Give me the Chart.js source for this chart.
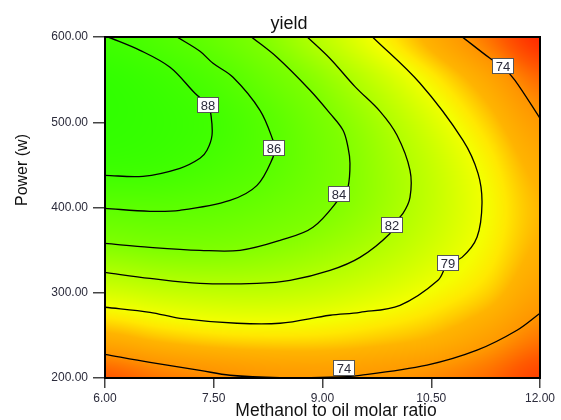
<!DOCTYPE html>
<html>
<head>
<meta charset="utf-8">
<script src="https://cdn.jsdelivr.net/npm/chart.js@4.4.1/dist/chart.umd.min.js"></script>
<style>
  html, body { margin: 0; padding: 0; background: #fff; }
  canvas { display: block; }
</style>
</head>
<body>
<canvas id="c" width="561" height="420"></canvas>
<script>
// ---------- data ----------
const xTicks = [6.00, 7.50, 9.00, 10.50, 12.00];
const yTicks = [200, 300, 400, 500, 600];

// estimated yield surface (rows: power 200 -> 600, cols: ratio 6 -> 12)
const gridX = [6, 6.75, 7.5, 8.25, 9, 9.75, 10.5, 11.25, 12];
const gridY = [200, 250, 300, 350, 400, 450, 500, 550, 600];
const gridZ = [
  [71.4, 72.7, 73.5, 74.1, 74.3, 74.1, 73.5, 72.3, 70.3],
  [76.2, 77.2, 77.8, 78.0, 77.9, 77.4, 76.6, 75.0, 72.9],
  [80.3, 80.9, 81.2, 81.2, 80.8, 80.0, 78.9, 77.4, 74.9],
  [83.5, 83.9, 83.9, 83.5, 82.8, 81.8, 80.4, 78.6, 76.2],
  [86.0, 86.1, 85.8, 85.1, 84.1, 82.8, 81.1, 79.0, 76.6],
  [88.6, 88.3, 87.4, 86.2, 84.6, 82.9, 81.0, 78.6, 75.9],
  [89.4, 88.9, 88.0, 86.3, 84.3, 82.4, 80.1, 77.4, 74.4],
  [89.3, 88.4, 87.0, 85.1, 83.2, 81.0, 78.4, 75.5, 72.2],
  [88.1, 86.9, 85.4, 83.6, 81.4, 78.8, 75.9, 72.7, 69.1]
];

// contour lines
const c88X = [6.000, 6.524, 7.034, 7.310, 7.407, 7.476, 7.462, 7.421, 7.241, 6.897, 6.483, 6.030];
const c88Y = [437.8, 436.6, 446.0, 457.7, 467.1, 484.7, 508.1, 519.9, 534.0, 564.5, 584.4, 600.5];

const c86X = [6.000, 6.621, 7.034, 7.724, 8.097, 8.317, 8.331, 8.317, 8.138, 7.766, 7.490, 7.310, 6.993];
const c86Y = [399.0, 395.5, 396.7, 408.4, 426.0, 458.8, 469.4, 478.8, 514.0, 552.7, 569.1, 583.2, 600.0];

const c84X = [6.000, 6.621, 7.310, 7.862, 8.414, 8.869, 9.283, 9.352, 9.379, 9.352, 9.283, 9.103, 8.828, 8.372, 8.028];
const c84Y = [357.9, 353.3, 349.8, 349.8, 361.5, 376.8, 415.5, 423.7, 451.8, 470.6, 490.6, 510.4, 537.5, 576.2, 599.5];

const c82X = [6.000, 6.621, 7.310, 8.097, 8.552, 9.103, 9.517, 9.931, 9.959, 10.110, 10.207, 10.207, 10.028, 9.793, 9.448, 9.103, 8.790];
const c82Y = [323.8, 316.8, 311.0, 311.0, 314.5, 326.2, 341.5, 369.6, 379.0, 393.2, 412.0, 443.6, 484.7, 512.8, 541.8, 574.8, 600.0];

const c79X = [6.000, 6.621, 7.034, 7.821, 8.414, 9.103, 9.517, 10.069, 10.593, 10.731, 10.924, 11.131, 11.200, 11.145, 10.938, 10.345, 9.690];
const c79Y = [283.0, 277.1, 270.0, 264.2, 264.2, 273.6, 277.1, 285.3, 314.6, 334.5, 341.5, 365.0, 404.9, 440.1, 478.8, 545.7, 600.0];

const c74aX = [6.000, 6.621, 7.310, 7.724, 8.414, 9.103, 9.517, 10.441, 11.131, 11.683, 12.000];
const c74aY = [227.8, 218.4, 209.0, 203.2, 200.3, 200.9, 203.2, 215.1, 232.6, 256.0, 276.0];

const c74bX = [10.924, 11.310, 11.490, 11.655, 12.000];
const c74bY = [600.4, 575.0, 564.5, 549.2, 504.6];

// contour labels
const labelText = ['88', '86', '84', '82', '79', '74', '74'];
const labelX = [7.421, 8.331, 9.228, 9.959, 10.731, 9.297, 11.490];
const labelY = [519.9, 469.4, 415.5, 379.0, 334.5, 211.4, 565.6];

// ---------- colour scale ----------
const colorStops = [
  [69.0, 255, 40, 0],
  [71.5, 255, 90, 0],
  [74.0, 255, 150, 0],
  [76.5, 255, 180, 0],
  [78.0, 255, 232, 0],
  [79.0, 244, 255, 0],
  [82.0, 175, 255, 0],
  [84.0, 125, 255, 0],
  [86.0, 92, 255, 0],
  [88.0, 65, 255, 0],
  [89.5, 48, 255, 0]
];
function colorFor(v) {
  if (v <= colorStops[0][0]) return colorStops[0].slice(1);
  for (let i = 1; i < colorStops.length; i++) {
    if (v <= colorStops[i][0]) {
      const a = colorStops[i - 1], b = colorStops[i];
      const t = (v - a[0]) / (b[0] - a[0]);
      return [a[1] + (b[1] - a[1]) * t, a[2] + (b[2] - a[2]) * t, a[3] + (b[3] - a[3]) * t];
    }
  }
  return colorStops[colorStops.length - 1].slice(1);
}

function cr(p0, p1, p2, p3, t) {
  return 0.5 * ((2 * p1) + (-p0 + p2) * t + (2 * p0 - 5 * p1 + 4 * p2 - p3) * t * t + (-p0 + 3 * p1 - 3 * p2 + p3) * t * t * t);
}
function locate(arr, v) {
  let i = 0;
  while (i < arr.length - 2 && v > arr[i + 1]) i++;
  let t = (v - arr[i]) / (arr[i + 1] - arr[i]);
  return [i, Math.max(0, Math.min(1, t))];
}
function surface(xv, yv) {
  const [i, tx] = locate(gridX, xv);
  const [j, ty] = locate(gridY, yv);
  const nx = gridX.length, ny = gridY.length;
  const cx = k => Math.max(0, Math.min(nx - 1, k));
  const cy = k => Math.max(0, Math.min(ny - 1, k));
  const rows = [];
  for (let r = -1; r <= 2; r++) {
    const row = gridZ[cy(j + r)];
    rows.push(cr(row[cx(i - 1)], row[cx(i)], row[cx(i + 1)], row[cx(i + 2)], tx));
  }
  return cr(rows[0], rows[1], rows[2], rows[3], ty);
}

// ---------- plugins ----------
const heatPlugin = {
  id: 'heat',
  beforeDatasetsDraw(chart) {
    const { ctx, chartArea, scales } = chart;
    const left = Math.round(chartArea.left), top = Math.round(chartArea.top);
    const w = Math.round(chartArea.right) - left, h = Math.round(chartArea.bottom) - top;
    const off = document.createElement('canvas');
    off.width = w; off.height = h;
    const octx = off.getContext('2d');
    const img = octx.createImageData(w, h);
    for (let j = 0; j < h; j++) {
      const yv = scales.y.getValueForPixel(top + j + 0.5);
      for (let i = 0; i < w; i++) {
        const xv = scales.x.getValueForPixel(left + i + 0.5);
        const c = colorFor(surface(xv, yv));
        const k = (j * w + i) * 4;
        img.data[k] = c[0]; img.data[k + 1] = c[1]; img.data[k + 2] = c[2]; img.data[k + 3] = 255;
      }
    }
    octx.putImageData(img, 0, 0);
    ctx.drawImage(off, left, top);
  }
};

const labelPlugin = {
  id: 'labels',
  afterDatasetsDraw(chart) {
    const { ctx, scales } = chart;
    ctx.save();
    ctx.font = '13px "Liberation Sans", Arial, sans-serif';
    ctx.textAlign = 'center';
    ctx.textBaseline = 'middle';
    for (let i = 0; i < labelText.length; i++) {
      const px = Math.round(scales.x.getPixelForValue(labelX[i]));
      const py = Math.round(scales.y.getPixelForValue(labelY[i]));
      ctx.fillStyle = '#ffffff';
      ctx.fillRect(px - 11, py - 8, 22, 16);
      ctx.strokeStyle = '#555';
      ctx.lineWidth = 1;
      ctx.strokeRect(px - 10.5, py - 7.5, 21, 15);
      ctx.fillStyle = '#2b2b3b';
      ctx.fillText(labelText[i], px, py + 1);
    }
    ctx.restore();
  }
};

const framePlugin = {
  id: 'frame',
  afterDraw(chart) {
    const { ctx, chartArea: a } = chart;
    ctx.save();
    ctx.strokeStyle = '#000';
    ctx.lineWidth = 2;
    ctx.strokeRect(a.left, a.top, a.right - a.left, a.bottom - a.top);
    ctx.fillStyle = '#111';
    ctx.textAlign = 'center';
    ctx.textBaseline = 'alphabetic';
    ctx.font = '18px "Liberation Sans", Arial, sans-serif';
    ctx.fillText('yield', 289, 29);
    ctx.font = '17.5px "Liberation Sans", Arial, sans-serif';
    ctx.fillText('Methanol to oil molar ratio', 336, 416);
    ctx.translate(23, 170);
    ctx.rotate(-Math.PI / 2);
    ctx.textBaseline = 'middle';
    ctx.font = '16px "Liberation Sans", Arial, sans-serif';
    ctx.fillText('Power (w)', 0, 0);
    ctx.restore();
  }
};

// ---------- chart ----------
const contours = [
  [c88X, c88Y], [c86X, c86Y], [c84X, c84Y], [c82X, c82Y],
  [c79X, c79Y], [c74aX, c74aY], [c74bX, c74bY]
];
const datasets = contours.map(([xs, ys]) => ({
  data: xs.map((x, i) => ({ x: x, y: ys[i] })),
  showLine: true,
  borderColor: '#000',
  borderWidth: 1.3,
  pointRadius: 0,
  pointHoverRadius: 0,
  tension: 0.35,
  fill: false
}));

const tickFont = { family: '"Liberation Sans", Arial, sans-serif', size: 12 };

new Chart(document.getElementById('c'), {
  type: 'scatter',
  data: { datasets: datasets },
  options: {
    responsive: false,
    animation: false,
    devicePixelRatio: 1,
    layout: { padding: { top: 37, right: 21, left: 0, bottom: 0 } },
    plugins: { legend: { display: false }, tooltip: { enabled: false }, title: { display: false } },
    scales: {
      x: {
        type: 'linear', min: xTicks[0], max: xTicks[xTicks.length - 1],
        afterBuildTicks: s => { s.ticks = xTicks.map(v => ({ value: v })); },
        ticks: { callback: v => Number(v).toFixed(2), font: tickFont, color: '#2b2b3b', padding: 3, maxRotation: 0 },
        grid: { drawOnChartArea: false, drawTicks: true, tickLength: 10, color: '#444', lineWidth: 1.5 },
        border: { display: false },
        afterFit: s => { s.height = 42; }
      },
      y: {
        type: 'linear', min: yTicks[0], max: yTicks[yTicks.length - 1],
        afterBuildTicks: s => { s.ticks = yTicks.map(v => ({ value: v })); },
        ticks: { callback: v => Number(v).toFixed(2), font: tickFont, color: '#2b2b3b', padding: 5 },
        grid: { drawOnChartArea: false, drawTicks: true, tickLength: 12, color: '#444', lineWidth: 1.5 },
        border: { display: false },
        afterFit: s => { s.width = 105; }
      }
    }
  },
  plugins: [heatPlugin, labelPlugin, framePlugin]
});
</script>
</body>
</html>
